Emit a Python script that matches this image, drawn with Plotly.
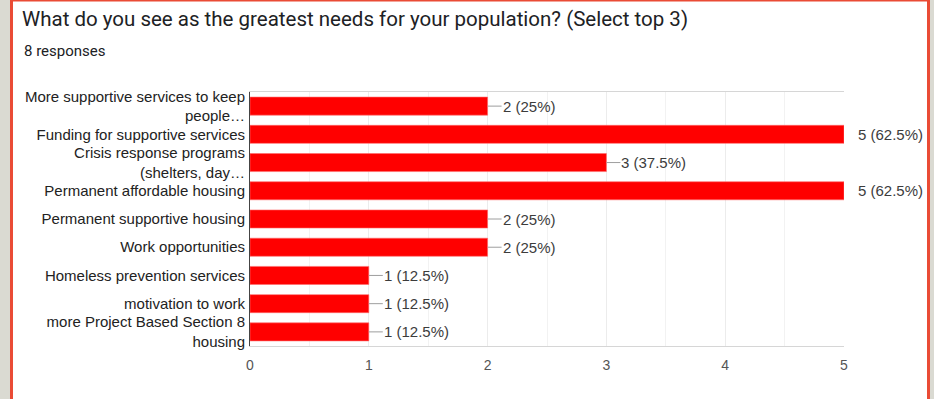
import plotly.graph_objects as go

categories = [
    "More supportive services to keep<br>people…",
    "Funding for supportive services",
    "Crisis response programs<br>(shelters, day…",
    "Permanent affordable housing",
    "Permanent supportive housing",
    "Work opportunities",
    "Homeless prevention services",
    "motivation to work",
    "more Project Based Section 8<br>housing",
]
counts = [2, 5, 3, 5, 2, 2, 1, 1, 1]
total_responses = 8
title_text = "What do you see as the greatest needs for your population? (Select top 3)"
subtitle_text = f"{total_responses} responses"
x_ticks = [0, 1, 2, 3, 4, 5]

W, H = 934, 399
L, R, T, B = 250, 90, 92, 53
PW, PH = W - L - R, H - T - B


def px(x):
    return (x - L) / PW


def py(y):
    return 1 - (y - T) / PH


def fmt_pct(c):
    p = c / total_responses * 100
    s = f"{p:.1f}".rstrip("0").rstrip(".")
    return f"{c} ({s}%)"


FONT = "Liberation Sans, Arial, sans-serif"
xmax = max(x_ticks)

fig = go.Figure()
fig.add_trace(go.Bar(
    x=counts, y=categories, orientation="h",
    marker=dict(color="#ff0000", line=dict(color="#ff6a6a", width=0.6)),
    hoverinfo="skip",
))

annotations = []
for c, cat in zip(counts, categories):
    if c >= xmax:
        annotations.append(dict(
            x=c, y=cat, xref="x", yref="y", text=fmt_pct(c), showarrow=False,
            xanchor="left", yanchor="middle", xshift=12,
            font=dict(family=FONT, size=15, color="#3c3c3c"),
        ))
    else:
        annotations.append(dict(
            x=c, y=cat, xref="x", yref="y", text=fmt_pct(c), showarrow=True,
            arrowhead=0, arrowwidth=1, arrowcolor="#9e9e9e", ax=14, ay=0,
            xanchor="left", yanchor="middle", standoff=0, borderpad=0,
            font=dict(family=FONT, size=15, color="#3c3c3c"),
        ))

annotations.append(dict(
    x=px(22), y=py(51), xref="paper", yref="paper", text=subtitle_text,
    showarrow=False, xanchor="left", yanchor="middle",
    font=dict(family="Roboto, sans-serif", size=15, color="#202124"),
))

shapes = [
    dict(type="rect", xref="paper", yref="paper", x0=px(0), x1=px(10), y0=py(H), y1=py(0),
         fillcolor="#dadad2", line=dict(width=0), layer="below"),
    dict(type="rect", xref="paper", yref="paper", x0=px(930), x1=px(W), y0=py(H), y1=py(0),
         fillcolor="#dadad2", line=dict(width=0), layer="below"),
    dict(type="line", xref="paper", yref="paper", x0=px(11.5), x1=px(11.5), y0=py(H), y1=py(0),
         line=dict(color="#ea4b35", width=3)),
    dict(type="line", xref="paper", yref="paper", x0=px(928.5), x1=px(928.5), y0=py(H), y1=py(0),
         line=dict(color="#ea4b35", width=3)),
    dict(type="line", xref="paper", yref="paper", x0=px(10), x1=px(930), y0=py(0.5), y1=py(0.5),
         line=dict(color="#ea4b35", width=2)),
]

fig.update_layout(
    width=W, height=H,
    margin=dict(l=L, r=R, t=T, b=B, pad=0),
    paper_bgcolor="white", plot_bgcolor="white",
    showlegend=False,
    bargap=0.36,
    title=dict(text=title_text, x=22 / W, xanchor="left", xref="container",
               y=1 - 19 / H, yanchor="middle", yref="container",
               font=dict(family="Roboto, sans-serif", size=20.5, color="#202124")),
    annotations=annotations,
    shapes=shapes,
    xaxis=dict(range=[0, xmax], tickvals=x_ticks, ticktext=[str(t) for t in x_ticks],
               showgrid=True, gridcolor="#ececec", gridwidth=1,
               minor=dict(dtick=0.5, showgrid=True, gridcolor="#f2f2f2", gridwidth=1),
               showline=True, linecolor="#d6d6d6", linewidth=1, mirror=True,
               zeroline=False, ticks="", ticklen=0, ticklabelstandoff=6,
               tickfont=dict(family=FONT, size=14, color="#555555")),
    yaxis=dict(autorange="reversed", showline=True, linecolor="#444444", linewidth=1,
               showgrid=False, zeroline=False, ticks="", ticklabelstandoff=1,
               tickfont=dict(family=FONT, size=15, color="#222222")),
)

fig.write_html("out.html")
